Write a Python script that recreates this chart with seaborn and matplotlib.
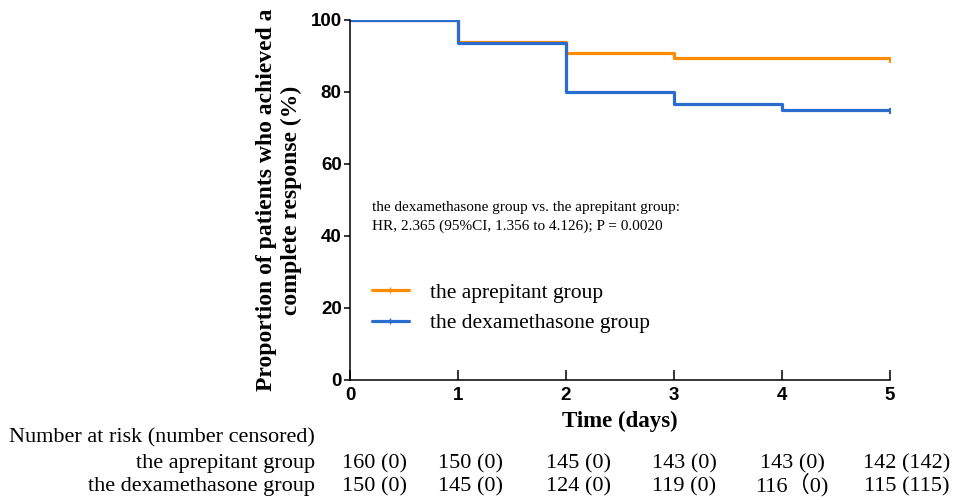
import matplotlib
matplotlib.use("Agg")
import matplotlib.pyplot as plt
import seaborn as sns
import pandas as pd
from matplotlib.lines import Line2D

# Kaplan-Meier style step values
days = [0, 1, 2, 3, 4, 5]
aprepitant_pct = [100, 93.9, 90.7, 89.4, 89.4, 88.9]
dexamethasone_pct = [100, 93.5, 80.1, 76.8, 75.0, 74.7]
groups = ["the aprepitant group", "the dexamethasone group"]
colors = ["#FF8C00", "#2A6DCF"]

# number at risk table
risk_aprepitant = ["160 (0)", "150 (0)", "145 (0)", "143 (0)", "143 (0)", "142 (142)"]
risk_dexamethasone = ["150 (0)", "145 (0)", "124 (0)", "119 (0)", "116（0)", "115 (115)"]
risk_col_px = [374, 470, 578, 684, 792, 907]  # column centres in the figure

df = pd.DataFrame({
    "day": days * 2,
    "pct": aprepitant_pct + dexamethasone_pct,
    "group": [groups[0]] * len(days) + [groups[1]] * len(days),
})

sns.set_theme(style="ticks")
plt.rcParams["text.color"] = "black"
serif = ["Liberation Serif", "Noto Sans CJK SC"]
sans = "Liberation Sans"

fig = plt.figure(figsize=(9.6, 5.0), dpi=100)
ax = fig.add_axes([350 / 960, 120 / 500, 540 / 960, 360 / 500])

sns.lineplot(data=df, x="day", y="pct", hue="group", hue_order=groups,
             palette=colors, drawstyle="steps-post", linewidth=2.3,
             estimator=None, legend=False, ax=ax)

# censor ticks at the end of follow-up
for vals, c in zip([aprepitant_pct, dexamethasone_pct], colors):
    ax.plot(days[-1], vals[-1], marker="|", color=c, markersize=4, mew=1.5)

ax.set_xlim(0, 5)
ax.set_ylim(0, 100)
ax.set_xticks(days)
ax.set_yticks([0, 20, 40, 60, 80, 100])
for lab in ax.get_xticklabels() + ax.get_yticklabels():
    lab.set_fontfamily(sans)
    lab.set_fontweight("bold")
    lab.set_fontsize(13.5)
    lab.set_color("black")
ax.tick_params(axis="y", direction="out", length=4, width=1.1, color="black", pad=2)
ax.tick_params(axis="x", direction="in", length=7, width=1.1, color="black", pad=5)
for s in ["left", "bottom"]:
    ax.spines[s].set_linewidth(1.1)
    ax.spines[s].set_color("black")
sns.despine(ax=ax)

ax.set_xlabel("Time (days)", fontfamily=serif, fontweight="bold", fontsize=16.5,
              labelpad=5, color="black")
ax.set_ylabel("Proportion of patients who achieved a\ncomplete response (%)",
              fontfamily=serif, fontweight="bold", fontsize=17, labelpad=6,
              linespacing=1.25, color="black")

ax.text(0.04, 0.453, "the dexamethasone group vs. the aprepitant group:\n"
        "HR, 2.365 (95%CI, 1.356 to 4.126); P = 0.0020",
        transform=ax.transAxes, fontfamily=serif, fontsize=11,
        va="center", ha="left", linespacing=1.5)

handles = [Line2D([0, 0.5, 1], [0, 0, 0], color=c, lw=2.3, marker="|",
                  markersize=4, markevery=[1]) for c in colors]
ax.legend(handles, groups, loc="center left", bbox_to_anchor=(0.005, 0.2),
          frameon=False, prop={"family": serif, "size": 15.5},
          handlelength=1.7, handletextpad=1.0, labelspacing=0.5)

# number at risk table
fig.text(315 / 960, 1 - 442 / 500, "Number at risk (number censored)",
         fontfamily=serif, fontsize=16, ha="right", va="baseline")
for row_y, label, vals in [(468, groups[0], risk_aprepitant),
                           (491, groups[1], risk_dexamethasone)]:
    fig.text(315 / 960, 1 - row_y / 500, label, fontfamily=serif,
             fontsize=16, ha="right", va="baseline")
    for px, v in zip(risk_col_px, vals):
        fig.text(px / 960, 1 - row_y / 500, v, fontfamily=serif, fontsize=16,
                 ha="center", va="baseline")

fig.savefig("out.png", dpi=100)
